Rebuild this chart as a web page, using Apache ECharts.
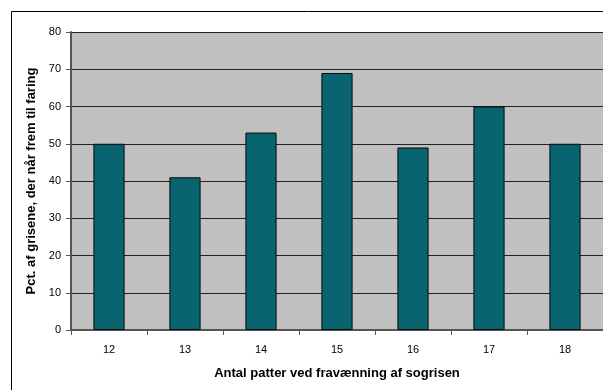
<!DOCTYPE html>
<html>
<head>
<meta charset="utf-8">
<script src="https://cdn.jsdelivr.net/npm/echarts@6/dist/echarts.min.js"></script>
<style>
  html, body { margin: 0; padding: 0; background: #fff; }
  #chart { width: 603px; height: 390px; }
</style>
</head>
<body>
<div id="chart"></div>
<script>
// Number of teats at weaning (categories) and share of piglets reaching farrowing (%)
const categories = ['12', '13', '14', '15', '16', '17', '18'];
const values = [50, 41, 53, 69, 49, 60, 50];
const yName = 'Pct. af grisene, der når frem til faring';
const xName = 'Antal patter ved fravænning af sogrisen';

const font = 'Liberation Sans, Arial, sans-serif';
const chart = echarts.init(document.getElementById('chart'), null, { renderer: 'canvas' });

chart.setOption({
  animation: false,
  backgroundColor: '#ffffff',
  graphic: [{
    type: 'rect',
    shape: { x: 11.5, y: 11.5, width: 700, height: 500 },
    style: { fill: 'none', stroke: '#000', lineWidth: 1 },
    silent: true,
    z: -1
  }],
  grid: {
    left: 71, top: 32, right: 0, bottom: 60,
    show: true, backgroundColor: '#c0c0c0', borderWidth: 0
  },
  xAxis: {
    type: 'category',
    data: categories,
    name: xName,
    nameLocation: 'middle',
    nameGap: 37,
    nameTextStyle: { fontFamily: font, fontSize: 13, fontWeight: 'bold', color: '#000' },
    axisLine: { show: true, lineStyle: { color: '#555', width: 2 } },
    axisTick: { show: true, alignWithLabel: false, length: 5, lineStyle: { color: '#555' } },
    axisLabel: { fontFamily: font, fontSize: 11, color: '#000', margin: 14 },
    splitLine: { show: false }
  },
  yAxis: {
    type: 'value',
    min: 0, max: 80, interval: 10,
    name: yName,
    nameLocation: 'middle',
    nameGap: 33,
    nameTextStyle: { fontFamily: font, fontSize: 13, fontWeight: 'bold', color: '#000' },
    axisLine: { show: true, lineStyle: { color: '#555', width: 2 } },
    axisTick: { show: true, length: 5, lineStyle: { color: '#555' } },
    axisLabel: { fontFamily: font, fontSize: 11, color: '#000', margin: 10 },
    splitLine: { show: true, lineStyle: { color: '#222', width: 1 } }
  },
  series: [{
    type: 'bar',
    data: values,
    barWidth: '41%',
    itemStyle: { color: '#08646f', borderColor: '#0a0a0a', borderWidth: 1 }
  }]
});
</script>
</body>
</html>
